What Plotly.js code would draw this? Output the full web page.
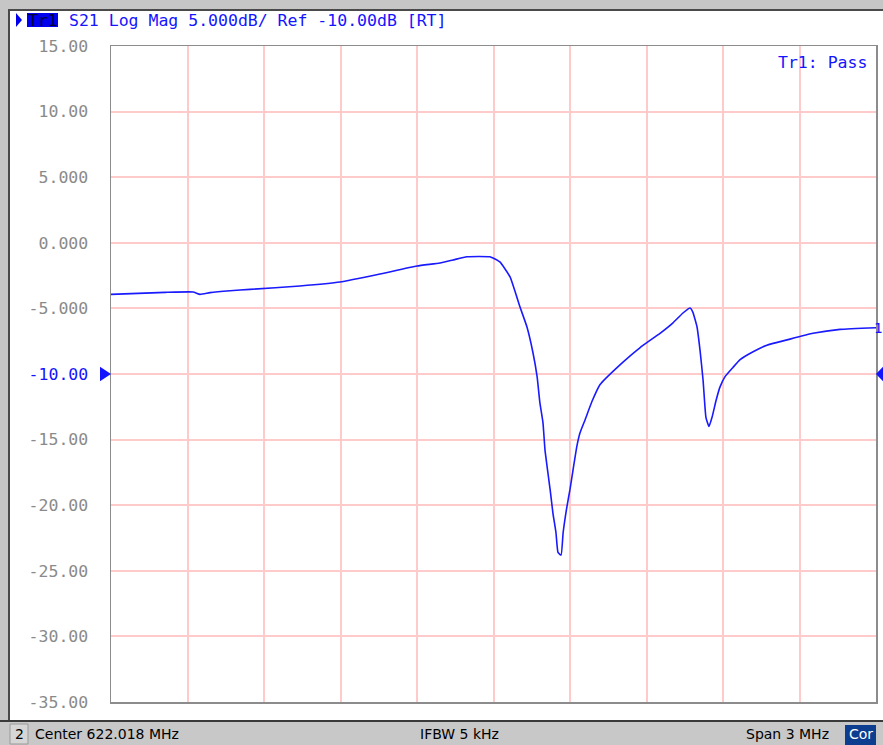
<!DOCTYPE html>
<html>
<head>
<meta charset="utf-8">
<script src="https://cdn.plot.ly/plotly-3.0.1.min.js"></script>
<style>
html,body{margin:0;padding:0;background:#fff;}
#chart{width:883px;height:745px;}
</style>
</head>
<body>
<div id="chart"></div>
<script>
// Frequency (MHz) and S21 magnitude (dB)
const freqMHz = [620.518, 620.730, 620.840, 620.867, 620.906, 620.985, 621.063, 621.259, 621.416, 621.573,
  621.718, 621.808, 621.859, 621.914, 622.004, 622.016, 622.043, 622.083, 622.122, 622.149,
  622.173, 622.189, 622.200, 622.212, 622.220, 622.240, 622.251, 622.263, 622.271, 622.283,
  622.291, 622.306, 622.318, 622.330, 622.345, 622.357, 622.377, 622.404, 622.436, 622.514,
  622.592, 622.671, 622.722, 622.761, 622.789, 622.800, 622.816, 622.828, 622.840, 622.851,
  622.863, 622.875, 622.891, 622.906, 622.926, 622.957, 622.985, 623.036, 623.090, 623.169,
  623.271, 623.377, 623.518];
const s21dB = [-3.93, -3.78, -3.75, -3.93, -3.80, -3.65, -3.55, -3.29, -2.99, -2.38,
  -1.77, -1.54, -1.31, -1.06, -1.06, -1.16, -1.46, -2.6, -4.9, -6.4,
  -8.4, -10.2, -12.2, -13.7, -15.8, -18.8, -20.6, -22.1, -23.6, -23.8,
  -22.1, -20.1, -18.8, -17.3, -15.5, -14.5, -13.5, -12.1, -10.8, -9.3,
  -8.0, -6.9, -6.1, -5.35, -4.97, -5.3, -6.4, -8.2, -10.5, -13.3,
  -14.0, -13.3, -12.0, -11.0, -10.2, -9.5, -8.9, -8.3, -7.8, -7.4,
  -6.9, -6.6, -6.47];

const yTickVals = [15, 10, 5, 0, -5, -10, -15, -20, -25, -30, -35];
const yTickText = ['15.00', '10.00', '5.000', '0.000', '-5.000', '-10.00', '-15.00', '-20.00', '-25.00', '-30.00', '-35.00'];
const refLevel = -10;
const centerMHz = 622.018;
const spanMHz = 3;

const headerText = 'S21 Log Mag 5.000dB/ Ref -10.00dB [RT]';
const statusTexts = ['Center 622.018 MHz', 'IFBW 5 kHz', 'Span 3 MHz'];

const blue = '#1414ff';
const mono = '"DejaVu Sans Mono", "Liberation Mono", monospace';
const sans = '"DejaVu Sans", "Liberation Sans", sans-serif';

const tickText = yTickText.map((t, i) => yTickVals[i] === refLevel ? '<span style="color:' + blue + '">' + t + '</span>' : t);

const L = 111, R = 876, T = 46, B = 702, W = 883, H = 745;
const px = x => (x - L) / (R - L);
const py = y => (B - y) / (B - T);

const trace = {
  x: freqMHz, y: s21dB, type: 'scatter', mode: 'lines',
  line: {color: '#1a1aff', width: 1.6, shape: 'spline', smoothing: 0.4}, hoverinfo: 'x+y', showlegend: false
};

const rect = (x0, y0, x1, y1, fill, lineColor, lw) => ({
  type: 'rect', xref: 'paper', yref: 'paper', x0: px(x0), x1: px(x1), y0: py(y1), y1: py(y0),
  fillcolor: fill, line: {color: lineColor || fill, width: lw === undefined ? 0 : lw}, layer: 'above'
});
const hline = (x0, x1, y, color, w) => ({type: 'line', xref: 'paper', yref: 'paper', x0: px(x0), x1: px(x1), y0: py(y), y1: py(y), line: {color: color, width: w}, layer: 'above'});
const vline = (x, y0, y1, color, w) => ({type: 'line', xref: 'paper', yref: 'paper', x0: px(x), x1: px(x), y0: py(y0), y1: py(y1), line: {color: color, width: w}, layer: 'above'});

const shapes = [
  // window frame
  rect(0, 0, W, 9, '#c6c6c6'),
  hline(0, W, 10, '#4a4a4a', 2),
  rect(0, 0, 8, H, '#c6c6c6'),
  vline(9, 10, 722, '#4a4a4a', 2),
  // status bar
  rect(0, 722, W, H, '#c8c8c8'),
  hline(0, W, 721, '#3a3a3a', 2),
  rect(10, 724, 28, 744, '#d6d6d6', '#9a9a9a', 1),
  rect(845, 725, 876, H, '#0c3d8f'),
  // header highlight
  rect(27, 13, 58, 27, '#0000ee'),
  {type: 'path', xref: 'paper', yref: 'paper',
   path: 'M ' + px(16) + ',' + py(13) + ' L ' + px(22) + ',' + py(20) + ' L ' + px(16) + ',' + py(27) + ' Z',
   fillcolor: '#0000ee', line: {width: 0}, layer: 'above'},
  // reference level markers
  {type: 'path', xref: 'paper', yref: 'y',
   path: 'M ' + px(100) + ',' + (refLevel + 0.55) + ' L ' + px(111) + ',' + refLevel + ' L ' + px(100) + ',' + (refLevel - 0.55) + ' Z',
   fillcolor: blue, line: {width: 0}, layer: 'above'},
  {type: 'path', xref: 'paper', yref: 'y',
   path: 'M ' + px(883) + ',' + (refLevel + 0.55) + ' L ' + px(876) + ',' + refLevel + ' L ' + px(883) + ',' + (refLevel - 0.55) + ' Z',
   fillcolor: blue, line: {width: 0}, layer: 'above'}
];

const ann = (x, y, text, opts) => Object.assign({
  xref: 'paper', yref: 'paper', x: px(x), y: py(y), text: text, showarrow: false,
  xanchor: 'left', yanchor: 'middle', borderpad: 0,
  font: {family: mono, size: 16.5, color: blue}
}, opts || {});

const annotations = [
  ann(42.5, 20, 'Tr1', {xanchor: 'center', font: {family: mono, size: 16.5, color: '#00003a'}}),
  ann(68, 20, headerText),
  ann(868, 62, 'Tr1: Pass', {xanchor: 'right'}),
  {xref: 'paper', yref: 'y', x: px(883), y: s21dB[s21dB.length - 1], text: '1', showarrow: false,
   xanchor: 'right', yanchor: 'middle', borderpad: 0, font: {family: mono, size: 14, color: blue}},
  ann(19, 734, '2', {xanchor: 'center', font: {family: sans, size: 14, color: '#000'}}),
  ann(34, 734, statusTexts[0], {font: {family: sans, size: 14, color: '#000'}}),
  ann(419, 734, statusTexts[1], {font: {family: sans, size: 14, color: '#000'}}),
  ann(745, 734, statusTexts[2], {font: {family: sans, size: 14, color: '#000'}}),
  ann(860.5, 734, 'Cor', {xanchor: 'center', font: {family: sans, size: 14, color: '#ffffff'}})
];

const layout = {
  width: W, height: H,
  margin: {l: L, r: W - R, t: T, b: H - B, pad: 0},
  paper_bgcolor: '#ffffff', plot_bgcolor: '#ffffff',
  showlegend: false,
  xaxis: {
    range: [centerMHz - spanMHz / 2, centerMHz + spanMHz / 2],
    tick0: centerMHz - spanMHz / 2, dtick: spanMHz / 10, tickmode: 'linear',
    showticklabels: false, ticks: '',
    showgrid: true, gridcolor: '#ffcaca', gridwidth: 2,
    zeroline: false, showline: true, mirror: true, linecolor: '#8c8c8c', linewidth: 1.5,
    fixedrange: true
  },
  yaxis: {
    range: [-35, 15], tickmode: 'array', tickvals: yTickVals, ticktext: tickText,
    ticks: '', ticklabelstandoff: 18,
    tickfont: {family: mono, size: 16.5, color: '#8a8a8a'},
    showgrid: true, gridcolor: '#ffcaca', gridwidth: 2,
    zeroline: false, showline: true, mirror: true, linecolor: '#8c8c8c', linewidth: 1.5,
    fixedrange: true
  },
  shapes: shapes,
  annotations: annotations
};

Plotly.newPlot('chart', [trace], layout, {displayModeBar: false, staticPlot: true});
</script>
</body>
</html>
